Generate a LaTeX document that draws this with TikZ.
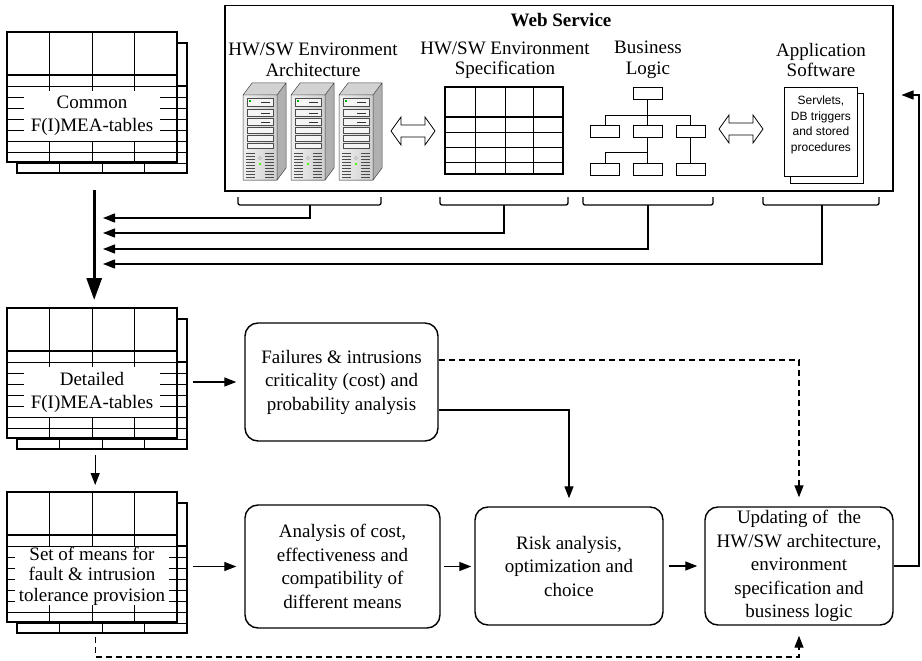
\documentclass[tikz,border=0pt]{standalone}
\usepackage{fontspec}
\setmainfont{Liberation Serif}
\newfontfamily\docsans{Liberation Sans}
\usetikzlibrary{arrows.meta,calc}

% one F(I)MEA table sheet, 170 x 130, origin at its top-left corner
\newcommand\tablegrid{%
  \fill[white] (0,0) rectangle (170,130);
  \foreach \r in {54,65,76,87,98,109,120} \draw[line width=0.8pt] (0,\r) -- (170,\r);
  \foreach \c in {42.5,85,127.5} \draw[line width=0.9pt] (\c,0) -- (\c,130);
  \draw[line width=2.4pt] (0,43) -- (170,43);
  \draw[line width=2.6pt] (0,0) rectangle (170,130);
}
% stacked pair of tables: name, left, top, text, baselineskip
\newcommand\fmeatable[5]{%
  \begin{scope}[shift={(#2+10,#3+11)}]\tablegrid\end{scope}
  \begin{scope}[shift={(#2,#3)}]\tablegrid
    \node[fill=white, inner xsep=4pt, inner ysep=0pt, minimum height=50pt,
          minimum width=136pt, align=center, font=\fontsize{19}{#5}\selectfont]
          at (85,84) {#4};
  \end{scope}
  \node[inner sep=0pt, minimum width=170pt, minimum height=130pt, anchor=north west] (#1) at (#2,#3) {};
}
% a tower server drawn in perspective: left, top
\newcommand\serverunit[2]{%
  \begin{scope}[shift={(#1,#2)}]
    \fill[gray!35] (0,12) -- (9,0) -- (43,0) -- (34,12) -- cycle;
    \fill[gray!62] (34,12) -- (43,0) -- (43,85) -- (34,97) -- cycle;
    \fill[left color=gray!12, right color=gray!38] (0,12) rectangle (34,97);
    \draw[gray!50!black, line width=0.5pt] (0,12) -- (9,0) -- (43,0) -- (43,85) -- (34,97) -- (0,97) -- cycle
      (0,12) -- (34,12) -- (43,0) (34,12) -- (34,97);
    \foreach \a/\b in {15/23,26/33,35/42,44/50,52/58,60/65}
      \draw[gray!60!black, fill=gray!8, line width=0.4pt] (4,\a) rectangle (30,\b);
    \foreach \a in {19,30,39} \draw[gray!40!black, line width=0.6pt] (18,\a) -- (27,\a);
    \fill[green!70!black] (6,17.5) rectangle (8,19.5);
    \foreach \v in {70,73,...,94}
      \draw[gray!60!black, line width=0.4pt] (3,\v) -- (12,\v) (22,\v) -- (31,\v);
    \draw[gray!60!black, line width=0.3pt, fill=white] (17,75) circle (1.5pt);
    \fill[green!75!yellow] (17,81) circle (1.4pt);
  \end{scope}
}
% hollow double-headed arrow: centre x, centre y
\newcommand\hollowdouble[2]{%
  \begin{scope}[shift={(#1,#2)}]
    \draw[line width=0.8pt, fill=white] (-22,0) -- (-12,-14) -- (-12,-6) -- (12,-6) -- (12,-14) -- (22,0)
      -- (12,14) -- (12,6) -- (-12,6) -- (-12,14) -- cycle;
  \end{scope}
}

\begin{document}
\begin{tikzpicture}[x=1pt, y=-1pt,
  lbl/.style={font=\fontsize{19}{20.5}\selectfont, align=center, inner sep=0pt},
  procbox/.style={draw, line width=1.4pt, rounded corners=13pt, inner sep=0pt, align=center,
                  font=\fontsize{19}{23.5}\selectfont},
  arr/.style={line width=1.3pt, -{Triangle[length=12pt,width=9pt]}},
  dasharr/.style={arr, dash pattern=on 6pt off 4pt},
  thickarr/.style={line width=3pt, -{Triangle[length=22pt,width=15pt]}},
  brk/.style={line width=1.3pt, rounded corners=2pt},
  blbox/.style={draw, line width=0.9pt, minimum width=29pt, minimum height=12pt, inner sep=0pt},
  treeline/.style={line width=0.9pt}]
\useasboundingbox (0,0) rectangle (922,661);

% ---------------- web service block ----------------
\node[draw, line width=1.5pt, minimum width=668pt, minimum height=185pt, anchor=north west,
      inner sep=0pt] (ws) at (224,5) {};
\node[font=\fontsize{19}{23}\selectfont\bfseries, inner sep=0pt] (wstitle) at (561,20) {Web Service};

\node[lbl] (harch) at (313,60) {HW/SW Environment\\Architecture};
\node[lbl] (hspec) at (505,60) {HW/SW Environment\\Specification};
\node[lbl] (hlogic) at (648,60) {Business\\Logic};
\node[lbl] (happ) at (821,60) {Application\\Software};

% servers
\serverunit{243}{83}
\serverunit{291}{83}
\serverunit{339}{83}

\hollowdouble{413}{131}

% specification table
\node[inner sep=0pt, minimum width=118pt, minimum height=87pt, anchor=north west] (spec) at (445,87) {};
\foreach \c in {475,505,533} \draw[line width=0.9pt] (\c,87) -- (\c,174);
\foreach \r in {132,147,162} \draw[line width=0.9pt] (445,\r) -- (563,\r);
\draw[line width=2.4pt] (445,117) -- (563,117);
\draw[line width=2.8pt] (445,87) rectangle (563,174);

% business logic tree
\node[blbox] (bltop) at (647.5,93) {};
\node[blbox] (blm1) at (605,131.5) {};
\node[blbox] (blm2) at (647.5,131.5) {};
\node[blbox] (blm3) at (690.5,131.5) {};
\node[blbox] (blb1) at (605,169) {};
\node[blbox] (blb2) at (647.5,169) {};
\node[blbox] (blb3) at (690.5,169) {};
\draw[treeline] (bltop.south) -- (blm2.north);
\draw[treeline] (blm1.north) -- (blm1.north |- 0,115) -- (blm3.north |- 0,115) -- (blm3.north);
\draw[treeline] (blm2.south) -- (blb2.north);
\draw[treeline] (blb1.north) -- (blb1.north |- 0,152) -- (blm2.south |- 0,152);
\draw[treeline] (blm3.south) -- (blb3.north);

\hollowdouble{741}{129}

% application software document
\draw[line width=0.9pt, fill=white] (790,93) rectangle (863,183);
\node[draw, fill=white, line width=0.9pt, minimum width=73pt, minimum height=89pt, anchor=north west,
      inner sep=0pt] (appsw) at (784,87) {};
\node[font=\docsans\fontsize{12}{15.8}\selectfont, align=center, inner sep=0pt]
      (apptext) at ([yshift=7pt]appsw.center) {Servlets,\\DB triggers\\and stored\\procedures};

% brackets collecting each part of the service
\foreach \l/\r/\m/\n in {238/381/310/1, 440/568/504/2, 583/713/648/3, 763/879/822/4} {
  \draw[brk] (\l,197) -- (\l,205) -- (\r,205) -- (\r,197);
  \coordinate (br\n) at (\m,205);
}

% ---------------- F(I)MEA tables ----------------
\fmeatable{common}{7}{32}{Common\\F(I)MEA-tables}{23}
\fmeatable{det}{7}{308}{Detailed\\F(I)MEA-tables}{23}
\fmeatable{setm}{7}{492}{Set of means for\\fault \& intrusion\\tolerance provision}{20.5}

% trunk from common to detailed tables, with the four inputs
\draw[thickarr] ([xshift=2pt,yshift=-28pt]common.south) -- ([xshift=2pt,yshift=8pt]det.north);
\foreach \n/\yy in {1/218,2/233,3/249,4/264} {
  \coordinate (in\n) at (103,\yy);
  \draw[arr] (br\n) |- (in\n);
}

% ---------------- process boxes ----------------
\node[procbox, minimum width=193pt, minimum height=118pt] (fail) at (341.5,382)
  {Failures \& intrusions\\criticality (cost) and\\probability analysis};
\node[procbox, minimum width=195pt, minimum height=123pt] (ana) at (342.5,566.5)
  {Analysis of cost,\\effectiveness and\\compatibility of\\different means};
\node[procbox, minimum width=188pt, minimum height=118pt] (risk) at (569,566)
  {Risk analysis,\\optimization and\\choice};
\node[procbox, minimum width=188pt, minimum height=118pt] (upd) at (799,566)
  {Updating of\ \ the\\HW/SW architecture,\\environment\\specification and\\business logic};

% ---------------- connectors ----------------
\draw[arr, shorten >=8pt] ([xshift=16pt]det.east |- fail.west) -- (fail.west);
\draw[arr] ([xshift=3pt,yshift=-17pt]det.south) -- ([xshift=3pt,yshift=7pt]setm.north);
\draw[arr, shorten >=8pt] ([xshift=16pt]setm.east |- ana.west) -- (ana.west);
\draw[arr, shorten <=3pt, shorten >=3pt] (ana.east) -- (risk.west |- ana.east);
\draw[arr, shorten <=5pt, shorten >=7pt] (risk.east) -- (upd.west);
\draw[arr, shorten >=8pt] ([yshift=-28pt]fail.east) -| (risk.north);
\draw[dasharr, shorten >=9pt] ([yshift=22pt]fail.east) -| (upd.north);
\coordinate (fbstart) at ([xshift=3pt,yshift=-15pt]setm.south);
\draw[dasharr, shorten >=10pt] (fbstart) -- (fbstart |- 0,657) -| (upd.south);
\coordinate (rt) at (919,95);
\draw[arr, shorten >=8pt] (upd.east) -| (rt) -- (ws.east |- rt);

\end{tikzpicture}
\end{document}
